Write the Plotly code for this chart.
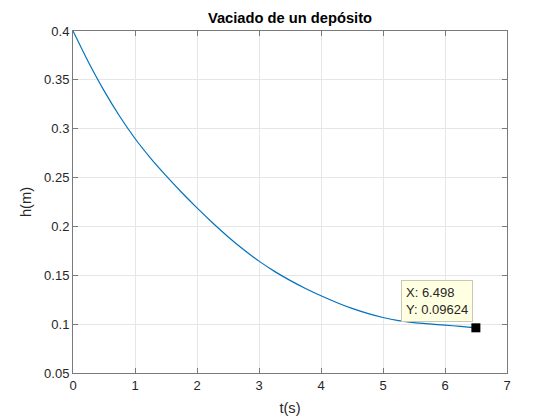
import plotly.graph_objects as go

# Tank draining curve
t_s = [0, 0.25, 0.5, 0.75, 1.0, 1.25, 1.5, 1.75, 2.0, 2.25, 2.5, 2.75, 3.0,
       3.25, 3.5, 3.75, 4.0, 4.25, 4.5, 4.75, 5.0, 5.25, 5.5, 5.75, 6.0,
       6.25, 6.498]
h_m = [0.400, 0.368, 0.339, 0.313, 0.290, 0.270, 0.252, 0.235, 0.219, 0.2038,
       0.1895, 0.1763, 0.1645, 0.154, 0.1448, 0.1365, 0.129, 0.1222, 0.1161,
       0.111, 0.1068, 0.1036, 0.1015, 0.1002, 0.0990, 0.0977, 0.09624]

x_ticks = [0, 1, 2, 3, 4, 5, 6, 7]
y_ticks = [0.05, 0.1, 0.15, 0.2, 0.25, 0.3, 0.35, 0.4]
y_labels = ["0.05", "0.1", "0.15", "0.2", "0.25", "0.3", "0.35", "0.4"]

FONT = "Liberation Sans, Arial, Helvetica, sans-serif"
AXIS_GRAY = "#7a7a7a"
TXT = "#262626"

fig = go.Figure()

fig.add_trace(go.Scatter(
    x=t_s, y=h_m, mode="lines",
    line=dict(color="#0072BD", width=1.2, shape="spline", smoothing=0.5),
    showlegend=False, hoverinfo="skip"
))

# data tip point
fig.add_trace(go.Scatter(
    x=[t_s[-1]], y=[h_m[-1]], mode="markers",
    marker=dict(symbol="square", size=9, color="black"),
    showlegend=False, hoverinfo="skip"
))

fig.add_annotation(
    x=t_s[-1], y=h_m[-1],
    text=f"X: {t_s[-1]:.4g}<br>Y: {h_m[-1]:.4g}",
    showarrow=False, xanchor="right", yanchor="bottom",
    xshift=-3, yshift=6, align="left",
    bgcolor="#ffffe1", bordercolor="#c8c8b4", borderwidth=1, borderpad=4,
    font=dict(family=FONT, size=13, color=TXT)
)

axis_common = dict(
    showline=True, linecolor=AXIS_GRAY, linewidth=1, mirror="ticks",
    ticks="inside", ticklen=5, tickcolor=AXIS_GRAY,
    showgrid=True, gridcolor="#e6e6e6", gridwidth=1,
    zeroline=False,
    tickfont=dict(family=FONT, size=13, color=TXT),
)

fig.update_xaxes(
    range=[0, 7], tickvals=x_ticks,
    title=dict(text="t(s)", font=dict(family=FONT, size=14.7, color=TXT), standoff=11),
    **axis_common
)
fig.update_yaxes(
    range=[0.05, 0.4], tickvals=y_ticks, ticktext=y_labels,
    title=dict(text="h(m)", font=dict(family=FONT, size=14.7, color=TXT), standoff=8),
    **axis_common
)

# page body adds an 8px offset, so margins are shifted to compensate
fig.update_layout(
    width=560, height=420,
    margin=dict(l=65, r=61, t=23, b=55),
    paper_bgcolor="white", plot_bgcolor="white",
    title=dict(text="<b>Vaciado de un depósito</b>", x=0.5, xref="paper",
               y=1 - 10 / 420, yref="container", yanchor="middle",
               font=dict(family=FONT, size=14.7, color="black")),
)

fig.write_html("out.html")
